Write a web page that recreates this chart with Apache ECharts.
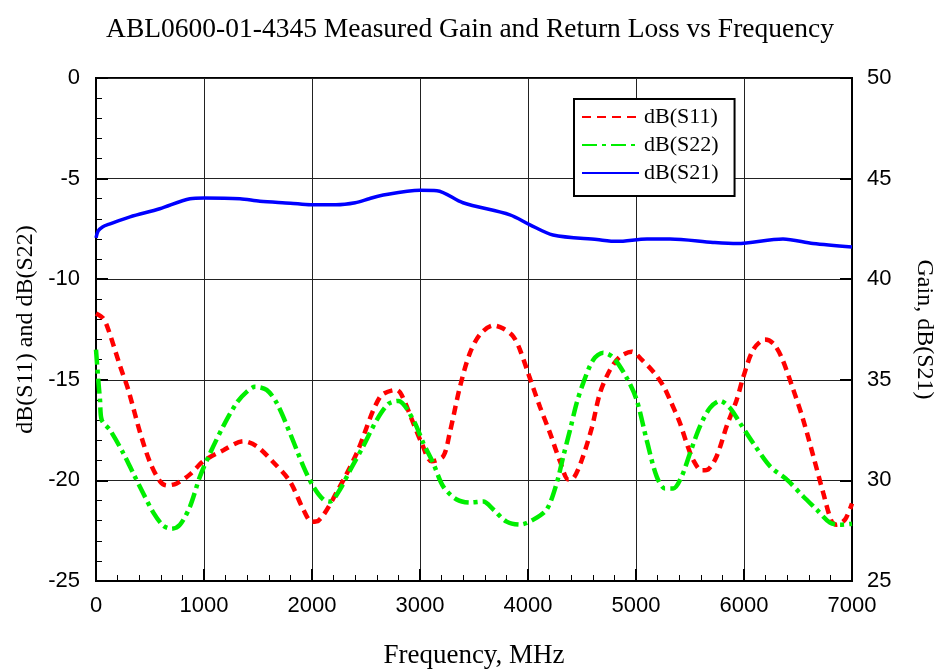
<!DOCTYPE html>
<html>
<head>
<meta charset="utf-8">
<script src="https://cdn.jsdelivr.net/npm/echarts@6/dist/echarts.min.js"></script>
<style>html,body{margin:0;padding:0;background:#fff}#c{width:940px;height:672px}</style>
</head>
<body>
<div id="c"></div>
<script>
const xTicks = [0, 1000, 2000, 3000, 4000, 5000, 6000, 7000];
const leftTicks = [-25, -20, -15, -10, -5, 0];
const rightTicks = [25, 30, 35, 40, 45, 50];

const s11Freq = [0,68,114,222,299,407,500,593,654,747,870,994,1179,1364,1488,1642,1796,1920,1997,2059,2228,2414,2630,2784,2830,2938,3015,3108,3215,3275,3370,3460,3555,3678,3770,3864,3925,4000,4111,4204,4296,4373,4420,4497,4590,4667,4760,4852,4960,5053,5160,5253,5315,5407,5469,5531,5608,5669,5747,5840,5932,5994,6086,6194,6272,6349,6457,6549,6642,6735,6812,6858,6935,7000];
const s11Vals = [-11.7,-11.95,-12.5,-14.3,-15.5,-17.6,-19.1,-20.05,-20.25,-20.15,-19.7,-19.05,-18.5,-18.05,-18.3,-19.1,-20.05,-21.45,-22.05,-22.0,-20.6,-18.65,-15.85,-15.5,-15.75,-17.15,-18.15,-19.05,-18.8,-17.65,-15.35,-13.7,-12.75,-12.3,-12.45,-12.85,-13.5,-14.65,-16.35,-17.65,-19.05,-19.95,-19.9,-19.0,-17.4,-15.65,-14.5,-13.85,-13.6,-14.0,-14.6,-15.3,-16.0,-17.15,-18.15,-19.0,-19.5,-19.45,-18.8,-17.3,-16.0,-14.85,-13.5,-13.0,-13.2,-13.9,-15.5,-17.0,-18.8,-20.65,-22.05,-22.2,-21.95,-21.15];

const s22Freq = [0,21,37,53,130,253,345,438,531,623,701,778,870,963,1056,1179,1302,1395,1472,1580,1673,1796,1920,2012,2105,2167,2259,2352,2475,2599,2707,2800,2938,3031,3123,3215,3340,3463,3586,3679,3802,3926,4049,4173,4265,4327,4389,4451,4512,4605,4697,4790,4914,5006,5099,5191,5268,5345,5423,5500,5593,5685,5778,5870,5963,6086,6241,6395,6549,6673,6796,6889,7000];
const s22Vals = [-13.5,-15.0,-16.0,-17.0,-17.5,-18.65,-19.65,-20.65,-21.6,-22.25,-22.4,-22.2,-21.3,-19.8,-18.65,-17.3,-16.15,-15.6,-15.35,-15.5,-16.15,-17.65,-19.3,-20.3,-20.95,-21.05,-20.45,-19.5,-18.3,-17.0,-16.2,-16.05,-17.0,-18.15,-19.15,-20.3,-20.95,-21.1,-21.05,-21.45,-22.05,-22.2,-21.95,-21.45,-20.15,-18.8,-17.5,-16.15,-15.15,-14.0,-13.65,-13.9,-14.9,-16.0,-18.0,-19.8,-20.4,-20.4,-19.8,-18.65,-17.3,-16.4,-16.05,-16.4,-17.15,-18.15,-19.3,-19.95,-20.8,-21.45,-22.1,-22.2,-22.15];

const s21Freq = [0,20,60,130,315,590,870,1000,1333,1518,1800,1990,2222,2400,2530,2630,3000,3157,3398,3833,4019,4231,4639,4824,5102,5315,5713,5935,6361,6639,7000];
const s21Vals = [42.05,42.4,42.6,42.75,43.1,43.5,44.0,44.04,44.0,43.87,43.78,43.7,43.7,43.8,44.0,44.15,44.42,44.4,43.8,43.2,42.7,42.2,41.97,41.88,42.0,42.0,41.83,41.77,42.0,41.77,41.6];

const pairs = (xs, ys) => xs.map((x, i) => [x, ys[i]]);
const SERIF = 'Liberation Serif';
const SANS = 'Liberation Sans';
const plain = v => String(v);

const chart = echarts.init(document.getElementById('c'), null, {renderer: 'canvas'});
chart.setOption({
  animation: false,
  backgroundColor: '#fff',
  title: {
    text: 'ABL0600-01-4345 Measured Gain and Return Loss vs Frequency',
    left: 'center', top: 11,
    textStyle: {fontFamily: SERIF, fontSize: 27.5, fontWeight: 'normal', color: '#000'}
  },
  legend: {
    orient: 'vertical', left: 574, top: 99,
    backgroundColor: '#fff', borderColor: '#000', borderWidth: 2, borderRadius: 0,
    padding: [7, 16, 12, 7], itemGap: 6, itemWidth: 57, itemHeight: 14,
    itemStyle: {opacity: 0},
    textStyle: {fontFamily: SERIF, fontSize: 22, color: '#000'},
    data: ['dB(S11)', 'dB(S22)', 'dB(S21)']
  },
  grid: {left: 96, right: 88, top: 78, bottom: 91, outerBoundsMode: 'none', containLabel: false,
         show: true, borderColor: '#000', borderWidth: 2, backgroundColor: 'transparent'},
  xAxis: {
    type: 'value', min: xTicks[0], max: xTicks[xTicks.length - 1], interval: 1000,
    name: 'Frequency, MHz', nameLocation: 'middle', nameGap: 61,
    nameTextStyle: {fontFamily: SERIF, fontSize: 27, color: '#000'},
    axisLine: {show: true, onZero: false, lineStyle: {color: '#000', width: 2}},
    axisTick: {show: true, inside: true, length: 12, lineStyle: {color: '#000', width: 2}},
    minorTick: {show: true, splitNumber: 5, length: 6, lineStyle: {color: '#000', width: 1}},
    splitLine: {show: true, lineStyle: {color: '#222', width: 1}},
    axisLabel: {fontFamily: SANS, fontSize: 22, color: '#000', margin: 14, formatter: plain}
  },
  yAxis: [{
    type: 'value', min: leftTicks[0], max: leftTicks[leftTicks.length - 1], interval: 5, position: 'left',
    name: 'dB(S11) and dB(S22)', nameLocation: 'middle', nameGap: 58,
    nameTextStyle: {fontFamily: SERIF, fontSize: 24, color: '#000'},
    axisLine: {show: true, onZero: false, lineStyle: {color: '#000', width: 2}},
    axisTick: {show: true, inside: true, length: 12, lineStyle: {color: '#000', width: 2}},
    minorTick: {show: true, splitNumber: 5, length: 6, lineStyle: {color: '#000', width: 1}},
    splitLine: {show: true, lineStyle: {color: '#222', width: 1}},
    axisLabel: {fontFamily: SANS, fontSize: 22, color: '#000', margin: 16, formatter: plain}
  }, {
    type: 'value', min: rightTicks[0], max: rightTicks[rightTicks.length - 1], interval: 5, position: 'right',
    name: 'Gain, dB(S21)', nameLocation: 'middle', nameGap: 60, nameRotate: -90,
    nameTextStyle: {fontFamily: SERIF, fontSize: 24, color: '#000'},
    axisLine: {show: true, onZero: false, lineStyle: {color: '#000', width: 2}},
    axisTick: {show: true, inside: true, length: 12, lineStyle: {color: '#000', width: 2}},
    minorTick: {show: false},
    splitLine: {show: false},
    axisLabel: {fontFamily: SANS, fontSize: 22, color: '#000', margin: 15, formatter: plain}
  }],
  series: [{
    name: 'dB(S11)', type: 'line', yAxisIndex: 0, data: pairs(s11Freq, s11Vals),
    showSymbol: false, symbol: 'none', smooth: 0.3,
    lineStyle: {color: '#ff0000', width: 4.5, type: [9, 6]},
    itemStyle: {color: '#ff0000'}
  }, {
    name: 'dB(S22)', type: 'line', yAxisIndex: 0, data: pairs(s22Freq, s22Vals),
    showSymbol: false, symbol: 'none', smooth: 0.3,
    lineStyle: {color: '#00ee00', width: 4.5, type: [15, 5, 4, 5]},
    itemStyle: {color: '#00ee00'}
  }, {
    name: 'dB(S21)', type: 'line', yAxisIndex: 1, data: pairs(s21Freq, s21Vals),
    showSymbol: false, symbol: 'none', smooth: 0.3,
    lineStyle: {color: '#0000ff', width: 3.5, type: 'solid'},
    itemStyle: {color: '#0000ff'}
  }]
});
</script>
</body>
</html>
